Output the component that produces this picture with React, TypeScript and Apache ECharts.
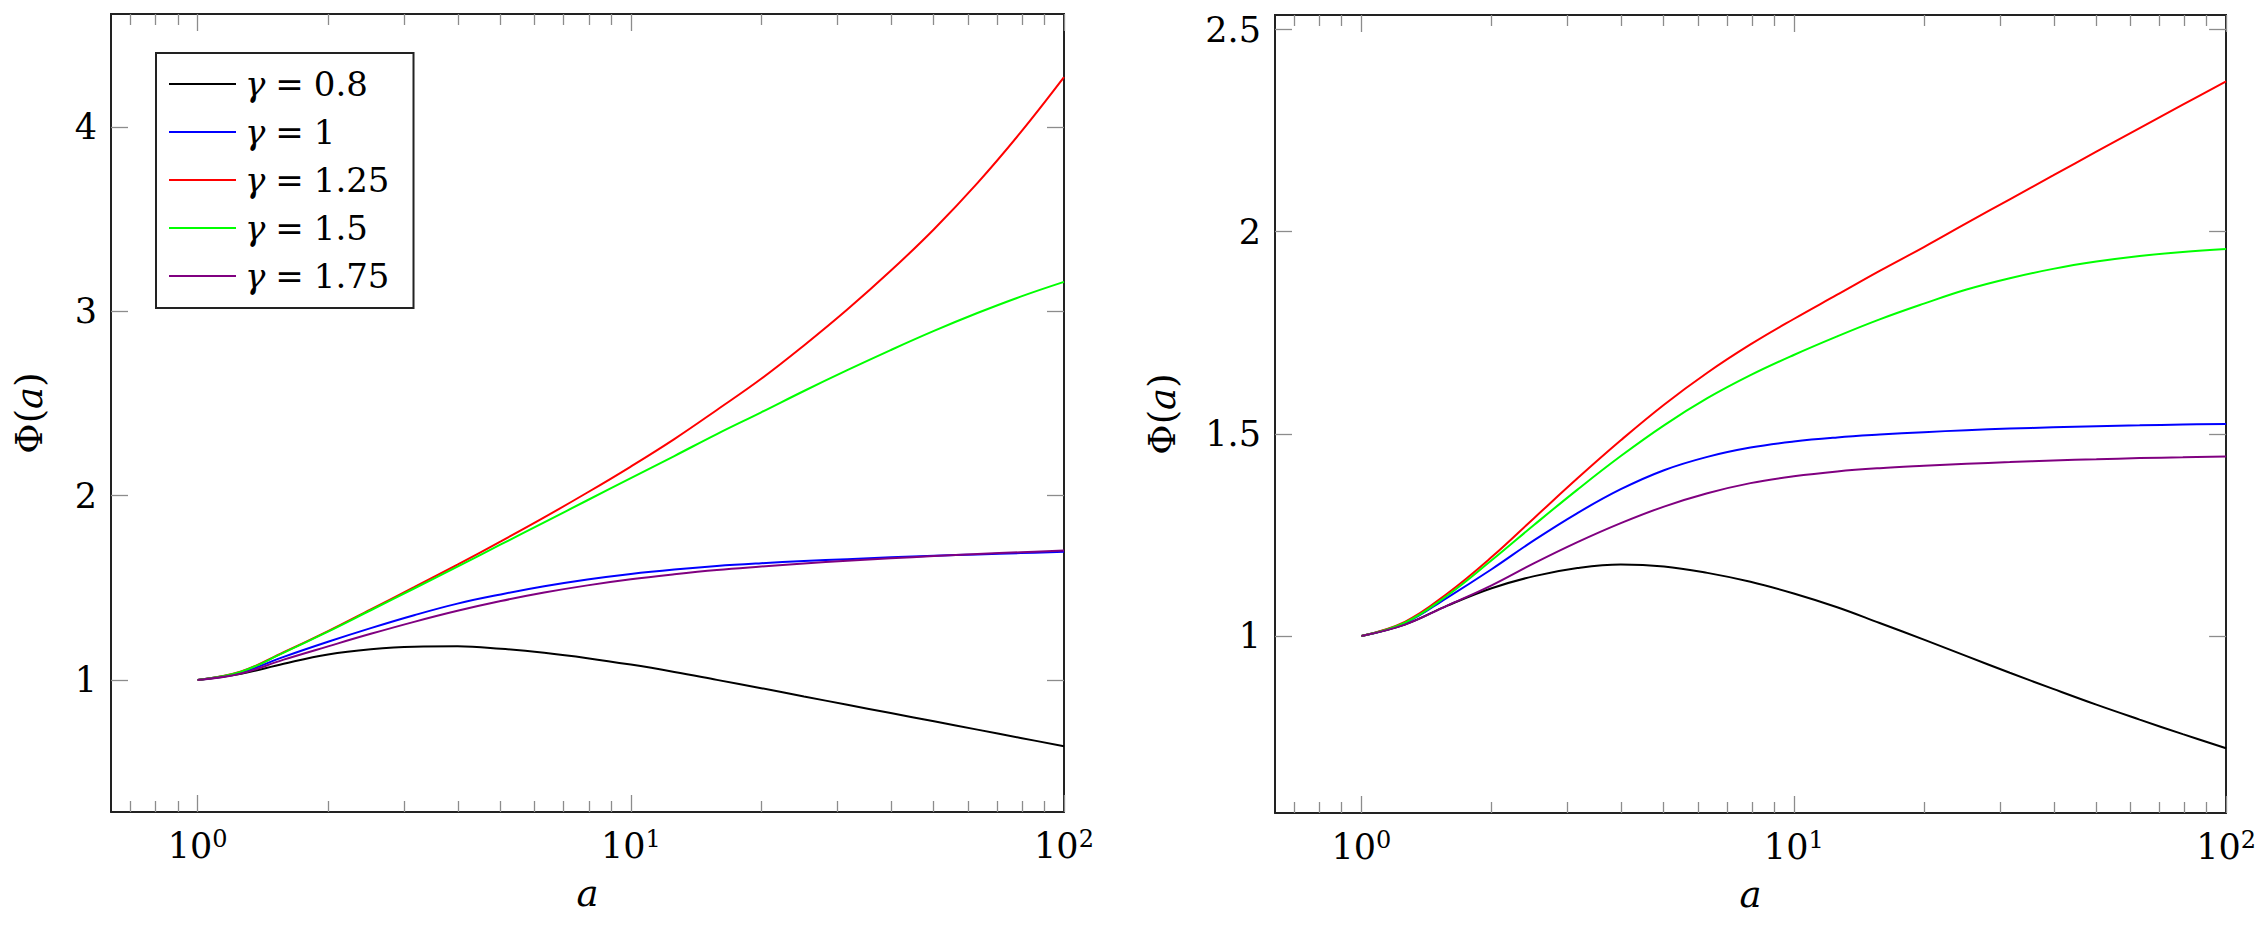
import React, { useEffect, useRef } from "react";
import * as echarts from "echarts";

// ---------- data ----------
const aValues = [1, 1.26, 1.58, 2, 2.51, 3.16, 3.98, 5.01, 6.31, 7.94, 10, 12.6, 15.8, 20, 25.1, 31.6, 39.8, 50.1, 63.1, 79.4, 100];
const gammaLabels = ["0.8", "1", "1.25", "1.5", "1.75"];
const seriesColors = ["#000000", "#0000ff", "#ff0000", "#00ff00", "#800080"];

// left panel
const leftG080 = [1, 1.033, 1.088, 1.138, 1.166, 1.18, 1.182, 1.169, 1.147, 1.118, 1.083, 1.043, 1.0, 0.955, 0.91, 0.865, 0.82, 0.775, 0.73, 0.685, 0.64];
const leftG100 = [1, 1.04, 1.125, 1.207, 1.281, 1.351, 1.414, 1.464, 1.508, 1.545, 1.575, 1.599, 1.618, 1.633, 1.645, 1.655, 1.665, 1.674, 1.681, 1.688, 1.695];
const leftG125 = [1, 1.046, 1.15, 1.265, 1.383, 1.503, 1.626, 1.752, 1.882, 2.017, 2.158, 2.307, 2.465, 2.634, 2.815, 3.01, 3.22, 3.446, 3.696, 3.971, 4.271];
const leftG150 = [1, 1.045, 1.148, 1.262, 1.378, 1.496, 1.615, 1.735, 1.855, 1.975, 2.095, 2.215, 2.334, 2.452, 2.568, 2.681, 2.79, 2.894, 2.991, 3.08, 3.16];
const leftG175 = [1, 1.035, 1.11, 1.182, 1.25, 1.315, 1.375, 1.428, 1.474, 1.513, 1.546, 1.573, 1.596, 1.615, 1.632, 1.647, 1.66, 1.672, 1.683, 1.693, 1.702];

// right panel
const rightG080 = [1, 1.028, 1.075, 1.118, 1.148, 1.168, 1.177, 1.172, 1.156, 1.134, 1.105, 1.071, 1.032, 0.991, 0.95, 0.909, 0.869, 0.83, 0.793, 0.757, 0.722];
const rightG100 = [1, 1.032, 1.095, 1.165, 1.237, 1.304, 1.363, 1.41, 1.443, 1.466, 1.481, 1.491, 1.498, 1.504, 1.509, 1.513, 1.516, 1.519, 1.521, 1.523, 1.524];
const rightG125 = [1, 1.035, 1.105, 1.195, 1.292, 1.39, 1.484, 1.572, 1.651, 1.721, 1.784, 1.844, 1.903, 1.962, 2.021, 2.08, 2.139, 2.198, 2.256, 2.314, 2.372];
const rightG150 = [1, 1.033, 1.1, 1.187, 1.275, 1.362, 1.445, 1.521, 1.588, 1.645, 1.695, 1.741, 1.783, 1.822, 1.857, 1.885, 1.908, 1.926, 1.94, 1.95, 1.957];
const rightG175 = [1, 1.028, 1.075, 1.125, 1.18, 1.232, 1.279, 1.32, 1.353, 1.378, 1.395, 1.407, 1.415, 1.421, 1.426, 1.43, 1.434, 1.437, 1.44, 1.442, 1.444];

const leftSeries = [leftG080, leftG100, leftG125, leftG150, leftG175];
const rightSeries = [rightG080, rightG100, rightG125, rightG150, rightG175];

// ticks
const xMajorTicks = [1, 10, 100];
const xMinorTicks = [0.7, 0.8, 0.9, 2, 3, 4, 5, 6, 7, 8, 9, 20, 30, 40, 50, 60, 70, 80, 90];
const leftYTicks = [1, 2, 3, 4];
const rightYTicks = [1, 1.5, 2, 2.5];
const xMin = 0.6309573; // 10^-0.2
const xMax = 100;
const leftYRange = [0.283, 4.614];
const rightYRange = [0.562, 2.536];

// ---------- styles ----------
const FONT = "DejaVu Serif";
const AXIS_COLOR = "#222";
const TICK_COLOR = "#8c8c8c";
const LABEL_SIZE = 35;
const NAME_SIZE = 37;
const LEGEND_SIZE = 34;

const seriesName = (g: string) => `γ = ${g}`;

function xAxesFor(gridIndex: number) {
  const logMin = Math.log10(xMin);
  const logMax = Math.log10(xMax);
  const deco = (position: string, ticks: number[], len: number, line: boolean) => ({
    type: "value",
    gridIndex,
    position,
    min: logMin,
    max: logMax,
    axisLine: { show: line, onZero: false, lineStyle: { color: AXIS_COLOR, width: 2 } },
    axisLabel: { show: false },
    splitLine: { show: false },
    axisTick: {
      show: true,
      inside: true,
      length: len,
      customValues: ticks.map((t) => Math.log10(t)),
      lineStyle: { color: TICK_COLOR, width: 1.3 },
    },
  });
  return [
    {
      type: "log",
      logBase: 10,
      gridIndex,
      position: "bottom",
      min: xMin,
      max: xMax,
      axisLine: { show: true, onZero: false, lineStyle: { color: AXIS_COLOR, width: 2 } },
      axisTick: { show: false },
      splitLine: { show: false },
      axisLabel: {
        margin: 15,
        fontFamily: FONT,
        formatter: (value: number) => {
          const e = Math.log10(value);
          const r = Math.round(e);
          if (Math.abs(e - r) > 1e-6) return "";
          return `{b|10}{s|${r}}`;
        },
        rich: {
          b: { fontFamily: FONT, fontSize: LABEL_SIZE, lineHeight: 38, color: "#000" },
          s: { fontFamily: FONT, fontSize: 24, lineHeight: 18, verticalAlign: "top", color: "#000" },
        },
      },
      name: "a",
      nameLocation: "middle",
      nameGap: 61,
      nameTextStyle: { fontFamily: FONT, fontSize: NAME_SIZE, fontStyle: "italic", color: "#000", lineHeight: 40 },
    },
    deco("bottom", xMajorTicks, 17, false),
    deco("bottom", xMinorTicks, 11, false),
    deco("top", xMajorTicks, 17, true),
    deco("top", xMinorTicks, 11, true),
  ];
}

function yAxesFor(gridIndex: number, range: number[], ticks: number[], nameGap: number) {
  return [
    {
      type: "value",
      gridIndex,
      position: "left",
      min: range[0],
      max: range[1],
      axisLine: { show: true, onZero: false, lineStyle: { color: AXIS_COLOR, width: 2 } },
      axisTick: {
        show: true,
        inside: true,
        length: 17,
        customValues: ticks,
        lineStyle: { color: TICK_COLOR, width: 1.3 },
      },
      splitLine: { show: false },
      axisLabel: {
        customValues: ticks,
        margin: 14,
        fontFamily: FONT,
        fontSize: LABEL_SIZE,
        color: "#000",
        formatter: (v: number) => String(v),
      },
      name: "{r|Φ(}{i|a}{r|)}",
      nameLocation: "middle",
      nameGap,
      nameTextStyle: {
        color: "#000",
        fontFamily: FONT,
        fontSize: NAME_SIZE,
        rich: {
          r: { fontFamily: FONT, fontSize: NAME_SIZE, color: "#000", lineHeight: 40 },
          i: { fontFamily: FONT, fontSize: NAME_SIZE, fontStyle: "italic", color: "#000", lineHeight: 40 },
        },
      },
    },
    {
      type: "value",
      gridIndex,
      position: "right",
      min: range[0],
      max: range[1],
      axisLine: { show: true, onZero: false, lineStyle: { color: AXIS_COLOR, width: 2 } },
      axisTick: {
        show: true,
        inside: true,
        length: 17,
        customValues: ticks,
        lineStyle: { color: TICK_COLOR, width: 1.3 },
      },
      splitLine: { show: false },
      axisLabel: { show: false },
    },
  ];
}

function buildSeries(values: number[][], xAxisIndex: number, yAxisIndex: number) {
  return values.map((vals, i) => ({
    type: "line",
    name: seriesName(gammaLabels[i]),
    xAxisIndex,
    yAxisIndex,
    data: aValues.map((a, k) => [a, vals[k]]),
    showSymbol: false,
    symbol: "none",
    smooth: 0.4,
    lineStyle: { color: seriesColors[i], width: 2 },
    itemStyle: { color: seriesColors[i] },
    z: 5,
  }));
}

export default function App() {
  const ref = useRef<HTMLDivElement>(null);

  useEffect(() => {
    if (!ref.current) return;
    const chart = echarts.init(ref.current, undefined, { renderer: "svg" });
    const option: any = {
      animation: false,
      backgroundColor: "#ffffff",
      textStyle: { fontFamily: FONT },
      grid: [
        { left: 111, top: 14, width: 953, height: 798, containLabel: false },
        { left: 1275, top: 15, width: 954, height: 798, containLabel: false },
      ],
      xAxis: [...xAxesFor(0), ...xAxesFor(1)],
      yAxis: [
        ...yAxesFor(0, leftYRange, leftYTicks, 62),
        ...yAxesFor(1, rightYRange, rightYTicks, 93),
      ],
      legend: {
        show: true,
        selectedMode: false,
        orient: "vertical",
        left: 156,
        top: 53,
        padding: [11, 24, 12, 13],
        itemWidth: 67,
        itemHeight: 2,
        itemGap: 8,
        icon: "rect",
        borderColor: AXIS_COLOR,
        borderWidth: 2,
        borderRadius: 0,
        backgroundColor: "#ffffff",
        data: gammaLabels.map(seriesName),
        formatter: (name: string) => {
          const g = name.split(" = ")[1];
          return `{g|γ}{e|=}{n|${g}}`;
        },
        textStyle: {
          fontFamily: FONT,
          fontSize: LEGEND_SIZE,
          lineHeight: 40,
          color: "#000",
          rich: {
            g: { fontFamily: FONT, fontSize: LEGEND_SIZE, fontStyle: "italic", color: "#000", lineHeight: 40, padding: [0, 0, 0, 4] },
            e: { fontFamily: FONT, fontSize: LEGEND_SIZE, color: "#000", lineHeight: 40, padding: [0, 10, 0, 10] },
            n: { fontFamily: FONT, fontSize: LEGEND_SIZE, color: "#000", lineHeight: 40 },
          },
        },
      },
      series: [...buildSeries(leftSeries, 0, 0), ...buildSeries(rightSeries, 5, 2)],
    };
    chart.setOption(option);
    return () => chart.dispose();
  }, []);

  return (
    <div
      ref={ref}
      style={{ position: "fixed", left: 0, top: 0, width: 2259, height: 925, background: "#fff" }}
    />
  );
}
